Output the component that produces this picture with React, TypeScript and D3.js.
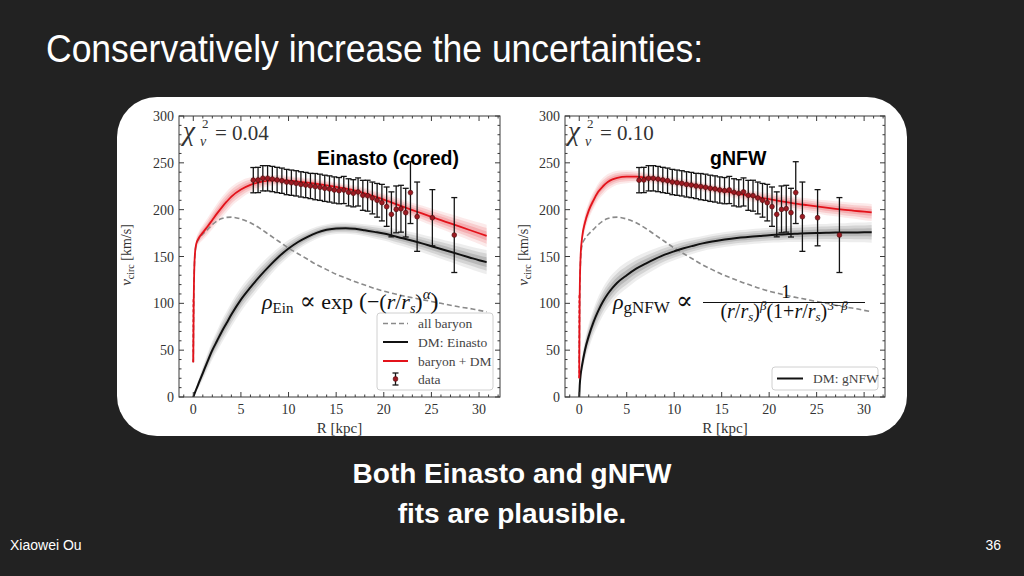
import React from 'react';
import * as d3 from 'd3';

// ---------- data ----------
const R_GRID = [0, 0.05, 0.15, 0.3, 0.6, 1, 1.5, 2, 2.5, 3, 3.5, 4, 5, 6, 7, 8, 9, 10, 11, 12, 13, 14, 15, 16, 17, 18, 19, 20, 21, 22, 23, 24, 25, 26, 27, 28, 29, 30, 30.8];

const V_BARYON = [37, 105, 148, 162, 169, 174, 179, 184, 188, 190.5, 191.8, 192, 190, 186, 180, 173, 166, 159, 153, 147, 141, 136, 131, 127, 123, 119.5, 116, 113, 110.5, 108, 106, 104, 102, 100, 98, 96, 94.5, 92.5, 91];

const V_EIN_DM = [0, 1.3, 4, 8, 15.5, 25.5, 38, 50, 60, 70, 79, 88, 104, 117, 129, 140, 150, 158.5, 165.5, 171, 175.5, 178.5, 180, 180.2, 179.5, 178, 176.3, 174.5, 172, 169.5, 166.8, 164, 161, 158, 155, 152, 149, 146, 144];
const S_EIN_DM = [0, 0.5, 1.5, 3, 5, 7, 9, 10, 11, 12, 12.5, 13, 13, 12.5, 12, 11, 10, 9, 8, 7, 6.5, 6, 6, 6, 6, 6.5, 7, 7.5, 8, 8.5, 9, 9.5, 10, 10.5, 11, 11.5, 12, 12.5, 13];

const V_EIN_TOT = [37, 105, 149, 163, 170, 175.5, 182, 189, 196, 202.5, 208.5, 214, 221.5, 226.5, 229.5, 231, 231.5, 231, 230, 228.8, 227.5, 226, 224.3, 222.4, 220.2, 217.5, 214.3, 210.8, 207, 203.2, 199.5, 196, 192.3, 188.8, 185.3, 181.8, 178.3, 174.8, 172];
const S_EIN_TOT = [0, 3, 5, 6, 7, 8, 9, 10, 10.5, 11, 11, 10.5, 9.5, 8, 7, 6, 5.5, 5, 5, 5, 5, 5, 5, 5, 5.5, 6, 6, 6.5, 7, 7.5, 8, 8.5, 9, 9.5, 10, 10.5, 11, 11.5, 12];

const V_GNFW_DM = [0, 12, 24, 34, 50, 65, 80, 92, 102, 110, 116.5, 122, 130, 137, 142.5, 147.5, 152, 155.5, 158.8, 161.5, 164, 166, 167.7, 169, 170.2, 171.2, 172, 172.8, 173.4, 174, 174.4, 174.8, 175.1, 175.3, 175.5, 175.6, 175.7, 175.8, 175.8];
const S_GNFW_DM = [0, 4, 7, 9, 11, 13, 14, 15, 15, 15, 15, 14.5, 14, 13, 12, 11, 10, 9.5, 9, 8.5, 8, 8, 8, 8, 8, 8, 8, 8, 8.5, 8.5, 9, 9, 9.5, 9.5, 10, 10, 10.5, 10.5, 11];

const V_GNFW_TOT = [20, 110, 152, 170, 186, 199, 210, 219, 225, 229.5, 232.3, 234, 235.2, 235.2, 234.3, 232.8, 231.2, 229.6, 227.9, 226.2, 224.3, 222.4, 220.5, 218.6, 216.7, 214.8, 213, 211.2, 209.5, 207.8, 206.2, 204.8, 203.4, 202.1, 200.9, 199.8, 198.8, 197.8, 197];
const S_GNFW_TOT = [0, 5, 7, 8, 9, 9, 9, 9, 9, 8.5, 8, 7.5, 7, 6, 5.5, 5, 5, 5, 5, 5, 5, 5, 5, 5.5, 5.5, 6, 6, 6.5, 6.5, 7, 7, 7.5, 7.5, 8, 8, 8.5, 8.5, 9, 9];

const DATA_R = [6.3, 6.8, 7.3, 7.8, 8.3, 8.8, 9.3, 9.8, 10.3, 10.8, 11.3, 11.8, 12.3, 12.8, 13.3, 13.8, 14.3, 14.8, 15.3, 15.8, 16.3, 16.8, 17.3, 17.8, 18.3, 18.8, 19.3, 19.8, 20.3, 20.8, 21.3, 21.8, 22.3, 22.8, 23.5, 25.1, 27.4];
const DATA_V = [231.5, 231.7, 233.5, 233.5, 232.7, 231.7, 230.9, 229.5, 228.8, 228.1, 227, 226.3, 225.3, 224.6, 223.9, 222.8, 222.1, 221, 220.3, 221, 218.5, 217.5, 218.9, 215.3, 214.9, 212.5, 210, 207.5, 203.2, 195, 200.3, 201, 196.8, 218.2, 192.5, 191.4, 172.9];
const DATA_ERR = [13.5, 13.5, 13.5, 13.5, 13.5, 13.5, 13.5, 13.5, 13.5, 13.5, 13.5, 13.5, 13.5, 14, 14, 14, 14, 14, 14, 14.5, 14.5, 14.5, 15, 16, 16.5, 17, 18, 19.5, 21, 24, 25, 25, 26, 33, 37, 30, 40];

const X_TICKS = [0, 5, 10, 15, 20, 25, 30];
const Y_TICKS = [0, 50, 100, 150, 200, 250, 300];

// ---------- layout ----------
const W = 1024, H = 576;
const TOP = 116, BOTTOM = 397;
const X_DOMAIN: [number, number] = [-1.5, 32.2];
const SERIF = "'Liberation Serif', 'DejaVu Serif', serif";
const SANS = "'Liberation Sans', Arial, sans-serif";
const RED = '#e3131b';

type PanelProps = {
  id: string;
  x0: number;
  x1: number;
  dm: number[];
  dmS: number[];
  tot: number[];
  totS: number[];
  chi: string;
  chiX: number;
  title: string;
  titleX: number;
  labelX: number;
  legendFull: boolean;
};

function Panel(p: PanelProps) {
  const x = d3.scaleLinear().domain(X_DOMAIN).range([p.x0, p.x1]);
  const y = d3.scaleLinear().domain([0, 300]).range([BOTTOM, TOP]);
  const pts = (vals: number[]) => R_GRID.map((r, i) => [r, vals[i]] as [number, number]);
  const line = d3.line<[number, number]>().x(d => x(d[0])).y(d => y(d[1])).curve(d3.curveMonotoneX);
  const band = (vals: number[], s: number[], k: number) =>
    d3.area<number>()
      .x((_, i) => x(R_GRID[i]))
      .y0((_, i) => y(Math.max(0, vals[i] - s[i] * k)))
      .y1((_, i) => y(vals[i] + s[i] * k))
      .curve(d3.curveMonotoneX)(vals.map((_, i) => i)) as string;

  const xMinor = d3.range(-1, 33, 1);
  const yMinor = d3.range(0, 301, 10);
  const frame = '#3a3a3a';
  const clip = `clip-${p.id}`;
  const pw = p.x1 - p.x0;

  return (
    <g>
      <defs>
        <clipPath id={clip}>
          <rect x={p.x0} y={TOP} width={pw} height={BOTTOM - TOP} />
        </clipPath>
      </defs>
      <g clipPath={`url(#${clip})`}>
        {[1, 0.7, 0.4].map((k, j) => (
          <path key={'gb' + j} d={band(p.dm, p.dmS, k)} fill="#000" opacity={0.07 + j * 0.03} />
        ))}
        {[1, 0.7, 0.4].map((k, j) => (
          <path key={'rb' + j} d={band(p.tot, p.totS, k)} fill={RED} opacity={0.09 + j * 0.04} />
        ))}
        <path d={line(pts(V_BARYON)) as string} fill="none" stroke="#8a8a8a" strokeWidth={1.6} strokeDasharray="5,3" />
        <path d={line(pts(p.dm)) as string} fill="none" stroke="#111" strokeWidth={2} />
        <path d={line(pts(p.tot)) as string} fill="none" stroke={RED} strokeWidth={1.8} />
        <line x1={x(0)} x2={x(0)} y1={y(p.tot[0])} y2={y(p.tot[1])} stroke={RED} strokeWidth={1.4} strokeDasharray="3,2" />
      </g>
      {/* data */}
      {DATA_R.map((r, i) => {
        const cx = x(r);
        const lo = y(DATA_V[i] - DATA_ERR[i]);
        const hi = y(DATA_V[i] + DATA_ERR[i]);
        return (
          <g key={'d' + i}>
            <line x1={cx} x2={cx} y1={lo} y2={hi} stroke="#151515" strokeWidth={1.3} />
            <line x1={cx - 3} x2={cx + 3} y1={lo} y2={lo} stroke="#151515" strokeWidth={1.3} />
            <line x1={cx - 3} x2={cx + 3} y1={hi} y2={hi} stroke="#151515" strokeWidth={1.3} />
            <circle cx={cx} cy={y(DATA_V[i])} r={2.4} fill="#9c1a22" stroke="#4a0808" strokeWidth={0.6} />
          </g>
        );
      })}
      {/* frame */}
      <rect x={p.x0} y={TOP} width={pw} height={BOTTOM - TOP} fill="none" stroke={frame} strokeWidth={1} />
      {X_TICKS.map(t => (
        <g key={'xt' + t}>
          <line x1={x(t)} x2={x(t)} y1={BOTTOM} y2={BOTTOM - 5} stroke={frame} />
          <line x1={x(t)} x2={x(t)} y1={TOP} y2={TOP + 5} stroke={frame} />
          <text x={x(t)} y={BOTTOM + 17} textAnchor="middle" fontFamily={SERIF} fontSize={14} fill="#333">{t}</text>
        </g>
      ))}
      {xMinor.filter(t => t % 5 !== 0).map(t => (
        <g key={'xm' + t}>
          <line x1={x(t)} x2={x(t)} y1={BOTTOM} y2={BOTTOM - 2.5} stroke={frame} />
          <line x1={x(t)} x2={x(t)} y1={TOP} y2={TOP + 2.5} stroke={frame} />
        </g>
      ))}
      {Y_TICKS.map(t => (
        <g key={'yt' + t}>
          <line x1={p.x0} x2={p.x0 + 5} y1={y(t)} y2={y(t)} stroke={frame} />
          <line x1={p.x1} x2={p.x1 - 5} y1={y(t)} y2={y(t)} stroke={frame} />
          <text x={p.x0 - 5} y={y(t) + 5} textAnchor="end" fontFamily={SERIF} fontSize={14} fill="#333">{t}</text>
        </g>
      ))}
      {yMinor.filter(t => t % 50 !== 0).map(t => (
        <g key={'ym' + t}>
          <line x1={p.x0} x2={p.x0 + 2.5} y1={y(t)} y2={y(t)} stroke={frame} />
          <line x1={p.x1} x2={p.x1 - 2.5} y1={y(t)} y2={y(t)} stroke={frame} />
        </g>
      ))}
      {/* axis labels */}
      <text x={(p.x0 + p.x1) / 2} y={433} textAnchor="middle" fontFamily={SERIF} fontSize={15} fill="#333">R [kpc]</text>
      <text transform={`translate(${p.labelX},255) rotate(-90)`} textAnchor="middle" fontFamily={SERIF} fontSize={14} fill="#333">
        <tspan fontStyle="italic" fontSize={15}>v</tspan>
        <tspan fontSize={10} dy={3}>circ</tspan>
        <tspan dy={-3}> [km/s]</tspan>
      </text>
      {/* chi^2 */}
      <g fontFamily={SERIF} fill="#333">
        <text x={p.chiX} y={140} fontSize={27} fontStyle="italic">χ</text>
        <text x={p.chiX + 19} y={128} fontSize={13}>2</text>
        <text x={p.chiX + 17} y={146} fontSize={14} fontStyle="italic">ν</text>
        <text x={p.chiX + 32} y={140} fontSize={21}>= {p.chi}</text>
      </g>
      <text x={p.titleX} y={165} fontFamily={SANS} fontWeight="bold" fontSize={19.5} fill="#000">{p.title}</text>
      {/* legend */}
      {p.legendFull ? (
        <g fontFamily={SERIF} fontSize={13.5} fill="#444">
          <rect x={377} y={313} width={116} height={77} rx={3} fill="#fff" fillOpacity={0.85} stroke="#d0d0d0" />
          <line x1={383} x2={408} y1={323.5} y2={323.5} stroke="#8a8a8a" strokeWidth={1.6} strokeDasharray="5,3" />
          <text x={418} y={328}>all baryon</text>
          <line x1={383} x2={408} y1={342} y2={342} stroke="#111" strokeWidth={2} />
          <text x={418} y={346.5}>DM: Einasto</text>
          <line x1={383} x2={408} y1={361} y2={361} stroke={RED} strokeWidth={2} />
          <text x={418} y={365.5}>baryon + DM</text>
          <line x1={395.5} x2={395.5} y1={373} y2={385} stroke="#151515" strokeWidth={1.3} />
          <line x1={392.5} x2={398.5} y1={373} y2={373} stroke="#151515" strokeWidth={1.3} />
          <line x1={392.5} x2={398.5} y1={385} y2={385} stroke="#151515" strokeWidth={1.3} />
          <circle cx={395.5} cy={379} r={2.4} fill="#9c1a22" stroke="#4a0808" strokeWidth={0.6} />
          <text x={418} y={383.5}>data</text>
        </g>
      ) : (
        <g fontFamily={SERIF} fontSize={13.5} fill="#444">
          <rect x={772} y={367} width={106} height={23} rx={3} fill="#fff" fillOpacity={0.85} stroke="#d0d0d0" />
          <line x1={777} x2={803} y1={378.5} y2={378.5} stroke="#111" strokeWidth={2} />
          <text x={813} y={383}>DM: gNFW</text>
        </g>
      )}
    </g>
  );
}

export default function App() {
  return (
    <svg width={W} height={H} style={{ position: 'absolute', left: 0, top: 0, display: 'block' }}>
      <rect x={0} y={0} width={W} height={H} fill="#222222" />
      <text x={46} y={62} fontFamily={SANS} fontSize={38} fill="#fff" textLength={657} lengthAdjust="spacingAndGlyphs">
        Conservatively increase the uncertainties:
      </text>
      <rect x={117} y={97} width={790} height={339} rx={40} ry={40} fill="#fff" />
      <Panel id="ein" x0={179} x1={500} dm={V_EIN_DM} dmS={S_EIN_DM} tot={V_EIN_TOT} totS={S_EIN_TOT}
        chi="0.04" chiX={183} title="Einasto (cored)" titleX={317} labelX={131} legendFull={true} />
      <Panel id="gnfw" x0={565} x1={885} dm={V_GNFW_DM} dmS={S_GNFW_DM} tot={V_GNFW_TOT} totS={S_GNFW_TOT}
        chi="0.10" chiX={568} title="gNFW" titleX={710} labelX={528} legendFull={false} />
      {/* Einasto formula */}
      <text x={262} y={309} fontFamily={SERIF} fontSize={22} fill="#111">
        <tspan fontStyle="italic">ρ</tspan>
        <tspan fontSize={15} dy={4}>Ein</tspan>
        <tspan dy={-4} fontSize={24}> ∝</tspan>
        <tspan> exp</tspan>
        <tspan fontSize={24}> (</tspan>
        <tspan>−(</tspan>
        <tspan fontStyle="italic">r</tspan>
        <tspan>/</tspan>
        <tspan fontStyle="italic">r</tspan>
        <tspan fontSize={14} fontStyle="italic" dy={4}>s</tspan>
        <tspan dy={-4}>)</tspan>
        <tspan fontSize={15} fontStyle="italic" dy={-10}>α</tspan>
        <tspan fontSize={24} dy={10}>)</tspan>
      </text>
      {/* gNFW formula */}
      <text x={613} y={309} fontFamily={SERIF} fontSize={22} fill="#111">
        <tspan fontStyle="italic">ρ</tspan>
        <tspan fontSize={17} dy={4}>gNFW</tspan>
        <tspan dy={-4} fontSize={25}> ∝</tspan>
      </text>
      <text x={786} y={298} fontFamily={SERIF} fontSize={19} fill="#111" textAnchor="middle">1</text>
      <line x1={703} x2={865} y1={302.5} y2={302.5} stroke="#111" strokeWidth={1} />
      <text x={784} y={318} fontFamily={SERIF} fontSize={20} fill="#111" textAnchor="middle">
        <tspan>(</tspan>
        <tspan fontStyle="italic">r</tspan>
        <tspan>/</tspan>
        <tspan fontStyle="italic">r</tspan>
        <tspan fontSize={13} fontStyle="italic" dy={3}>s</tspan>
        <tspan dy={-3}>)</tspan>
        <tspan fontSize={13} fontStyle="italic" dy={-8}>β</tspan>
        <tspan dy={8}>(1+</tspan>
        <tspan fontStyle="italic">r</tspan>
        <tspan>/</tspan>
        <tspan fontStyle="italic">r</tspan>
        <tspan fontSize={13} fontStyle="italic" dy={3}>s</tspan>
        <tspan dy={-3}>)</tspan>
        <tspan fontSize={13} dy={-8}>3−</tspan>
        <tspan fontSize={13} fontStyle="italic">β</tspan>
      </text>
      <text x={512} y={483} textAnchor="middle" fontFamily={SANS} fontWeight="bold" fontSize={28} fill="#fff">Both Einasto and gNFW</text>
      <text x={512} y={523} textAnchor="middle" fontFamily={SANS} fontWeight="bold" fontSize={28} fill="#fff">fits are plausible.</text>
      <text x={10} y={550} fontFamily={SANS} fontSize={14} fill="#fff">Xiaowei Ou</text>
      <text x={1001} y={550} textAnchor="end" fontFamily={SANS} fontSize={14} fill="#fff">36</text>
    </svg>
  );
}
